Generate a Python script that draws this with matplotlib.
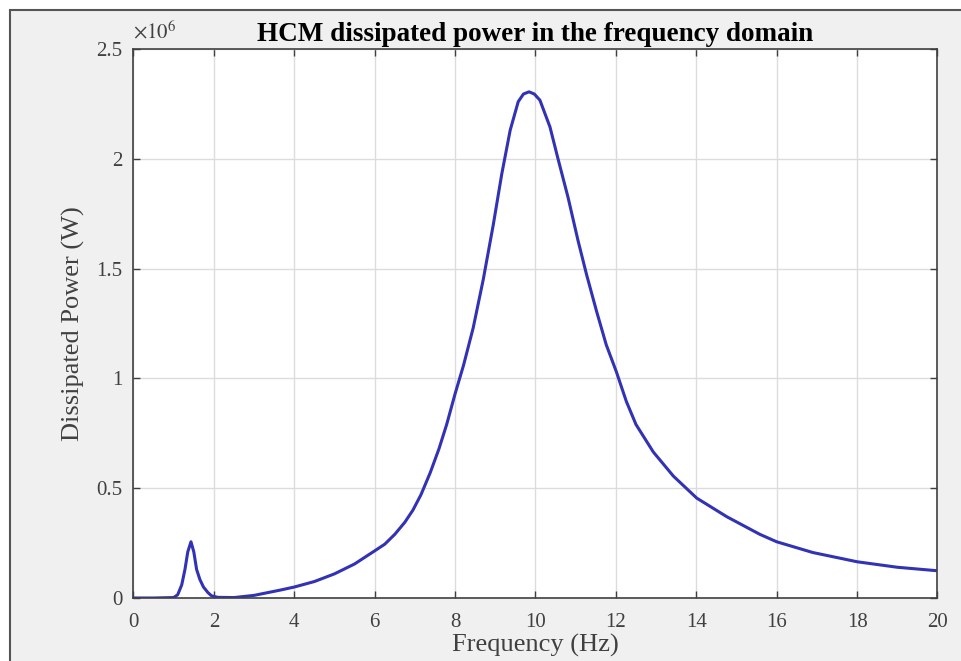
import numpy as np
import matplotlib.pyplot as plt
from matplotlib.patches import Rectangle
from matplotlib.ticker import FuncFormatter

# values (frequency in Hz, power in units of 1e6 W)
freq = [0, 0.5, 1.0, 1.1, 1.2, 1.28, 1.35, 1.43, 1.5, 1.57, 1.65, 1.74, 1.85, 1.94,
        2.1, 2.5, 3.0, 3.65, 4.0, 4.5, 5.0, 5.5, 5.96, 6.25, 6.5, 6.75, 6.95, 7.15, 7.38,
        7.6, 7.79, 8.0, 8.21, 8.45, 8.70, 8.95, 9.16, 9.37, 9.57, 9.70, 9.84, 9.97, 10.11,
        10.36, 10.56, 10.81, 11.06, 11.27, 11.52, 11.76, 12.01, 12.26, 12.5, 12.93, 13.43,
        14.01, 14.76, 15.58, 16.0, 16.9, 18.0, 19.0, 20]
power_mw = [0, 0, 0.002, 0.015, 0.06, 0.13, 0.21, 0.256, 0.21, 0.13, 0.085, 0.05, 0.025, 0.01,
            0.003, 0.002, 0.012, 0.036, 0.05, 0.075, 0.11, 0.155, 0.21, 0.245, 0.29, 0.345, 0.40,
            0.47, 0.57, 0.68, 0.79, 0.93, 1.06, 1.23, 1.45, 1.70, 1.93, 2.13, 2.26, 2.295, 2.305,
            2.295, 2.267, 2.145, 2.0, 1.824, 1.626, 1.473, 1.305, 1.153, 1.031, 0.895, 0.79,
            0.665, 0.555, 0.455, 0.37, 0.29, 0.256, 0.207, 0.165, 0.14, 0.124]
power = np.array(power_mw) * 1e6

x_ticks = np.arange(0, 21, 2)
y_ticks = np.array([0, 0.5, 1, 1.5, 2, 2.5]) * 1e6

plt.rcParams['font.family'] = ['Liberation Serif', 'DejaVu Serif']
plt.rcParams['mathtext.fontset'] = 'stix'

W, H = 962, 661
fig = plt.figure(figsize=(W / 100, H / 100), dpi=100, facecolor='white')
fig.patches.append(Rectangle((10 / W, -0.1), 1.1, (H - 9.5) / H + 0.1, transform=fig.transFigure,
                             facecolor='#f0f0f0', edgecolor='#555555', linewidth=1.5, zorder=-10))

ax = fig.add_axes([133.5 / W, (H - 598) / H, 804 / W, 549 / H])
ax.set_facecolor('white')
ax.plot(freq, power, color='#3232b4', linewidth=2.2)

ax.set_xlim(0, 20)
ax.set_ylim(0, 2.5e6)
ax.set_xticks(x_ticks)
ax.set_yticks(y_ticks)
ax.yaxis.set_major_formatter(FuncFormatter(lambda v, _: f'{v / 1e6:g}'))
ax.grid(True, color='#dcdcdc', linewidth=1)
ax.tick_params(direction='in', length=5, width=1, colors='#404040', labelsize=15,
               top=True, right=True)
ax.tick_params(axis='x', pad=11)
ax.tick_params(axis='y', pad=8)
for s in ax.spines.values():
    s.set_color('#404040')
    s.set_linewidth(1.2)

ax.set_title('HCM dissipated power in the frequency domain', fontsize=19.5, fontweight='bold',
             pad=6)
ax.set_xlabel('Frequency (Hz)', fontsize=19, color='#404040', labelpad=1)
ax.set_ylabel('Dissipated Power (W)', fontsize=19, color='#404040', labelpad=8)
ax.text(0.0, 1.01, r'$\times10^6$', transform=ax.transAxes, fontsize=15, color='#404040',
        ha='left', va='bottom')

fig.savefig('out.png', dpi=100)
